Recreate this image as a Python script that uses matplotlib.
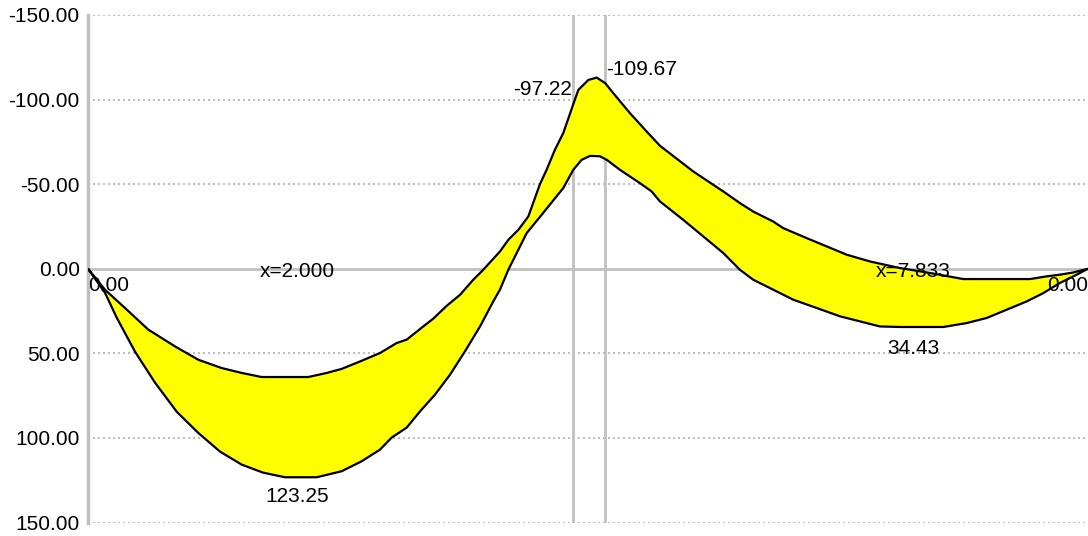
import numpy as np
import matplotlib.pyplot as plt

plt.rcParams['font.family'] = ['Liberation Sans', 'DejaVu Sans']

# Beam length and column faces (m)
beam_length = 9.3
column_faces = [4.513, 4.811]

# Envelope: max moment (sagging, drawn lower) along the beam
x_max = [0.0, 0.158, 0.267, 0.437, 0.623, 0.825, 1.023, 1.228, 1.430, 1.627,
         1.832, 2.127, 2.359, 2.545, 2.716, 2.824, 2.964, 3.088, 3.227, 3.367,
         3.506, 3.646, 3.769, 3.831, 3.909, 4.080, 4.219, 4.420, 4.513, 4.591,
         4.669, 4.761, 4.824, 4.947, 5.133, 5.242, 5.319, 5.536, 5.722, 5.908,
         6.063, 6.187, 6.373, 6.559, 6.777, 6.993, 7.179, 7.365, 7.552, 7.954,
         8.172, 8.358, 8.544, 8.730, 8.884, 9.039, 9.195, 9.3]
m_max = [0.0, 14.2, 28.9, 49.0, 67.3, 84.5, 96.9, 108.1, 115.8, 120.5,
         123.25, 123.25, 119.7, 113.8, 106.9, 99.8, 93.9, 84.3, 74.4, 62.6,
         48.8, 34.1, 19.3, 12.4, 0.6, -21.1, -31.9, -47.7, -58.5, -64.4,
         -66.7, -66.5, -64.4, -58.5, -50.6, -45.7, -39.8, -28.9, -19.1, -9.3,
         0.6, 6.5, 12.4, 18.3, 23.2, 28.1, 31.1, 34.1, 34.43, 34.43,
         32.1, 29.1, 24.2, 19.3, 14.4, 8.4, 3.5, 0.0]

# Envelope: min moment (hogging, drawn upper)
x_min = [0.0, 0.158, 0.344, 0.561, 0.809, 1.026, 1.243, 1.430, 1.615, 2.049,
         2.220, 2.359, 2.530, 2.716, 2.871, 2.964, 3.118, 3.211, 3.336, 3.460,
         3.583, 3.676, 3.831, 3.909, 4.002, 4.095, 4.203, 4.265, 4.342, 4.420,
         4.513, 4.560, 4.653, 4.731, 4.811, 4.885, 5.040, 5.196, 5.319, 5.629,
         5.908, 6.063, 6.187, 6.373, 6.466, 6.684, 6.870, 7.056, 7.273, 7.552,
         7.831, 8.140, 8.760, 8.916, 9.039, 9.163, 9.3]
m_min = [0.0, 12.4, 23.2, 36.0, 45.9, 53.8, 58.7, 61.6, 64.0, 64.0,
         61.6, 59.2, 54.8, 49.8, 43.9, 41.9, 34.1, 29.5, 21.9, 15.4,
         6.5, 0.6, -10.2, -17.1, -23.0, -30.9, -50.0, -58.5, -70.3, -80.2,
         -97.22, -105.7, -111.6, -113.0, -109.67, -103.8, -92.0, -81.1, -72.7, -57.5,
         -45.7, -38.8, -33.8, -27.9, -24.0, -18.1, -13.2, -8.3, -4.3, -0.4,
         2.5, 6.1, 6.1, 4.5, 3.5, 2.2, 0.0]

y_ticks = [-150, -100, -50, 0, 50, 100, 150]

# annotations: (x, y, text, ha, va)
labels = [
    (0.0, 4.0, "0.00", "left", "top"),
    (9.3, 4.0, "0.00", "right", "top"),
    (1.944, 1.5, "x=2.000", "center", "center"),
    (7.677, 1.5, "x=7.833", "center", "center"),
    (1.948, 129.0, "123.25", "center", "top"),
    (7.672, 41.5, "34.43", "center", "top"),
    (4.50, -105.7, "-97.22", "right", "center"),
    (4.82, -117.5, "-109.67", "left", "center"),
]

fig = plt.figure(figsize=(10.88, 5.36), dpi=100)
ax = fig.add_axes([88 / 1088, (536 - 522.5) / 536, 1 - 88 / 1088, 507.5 / 536])

grey = "#c0c0c0"

# polygon of the envelope
xs = list(x_min) + list(x_max[::-1])
ys = list(m_min) + list(m_max[::-1])
ax.fill(xs, ys, facecolor="#ffff00", edgecolor="black", linewidth=1.6, zorder=3)

for v in y_ticks:
    if v == 0:
        ax.axhline(v, color=grey, linewidth=2, zorder=1)
    else:
        ax.axhline(v, color="#b0b0b0", linewidth=1.2, linestyle=(0, (1.2, 1.8)), zorder=1)
for xc in column_faces:
    ax.axvline(xc, color=grey, linewidth=2, zorder=2)

for x, y, t, ha, va in labels:
    ax.text(x, y, t, ha=ha, va=va, fontsize=15, color="black", zorder=5)

ax.set_xlim(0, beam_length)
ax.set_ylim(150, -150)
ax.set_xticks([])
ax.set_yticks(y_ticks)
ax.set_yticklabels(["%.2f" % v for v in y_ticks], fontsize=15)
ax.tick_params(axis="y", length=0, pad=6)
for side in ["top", "right", "bottom"]:
    ax.spines[side].set_visible(False)
ax.spines["left"].set_color(grey)
ax.spines["left"].set_linewidth(2.5)
ax.patch.set_alpha(0)

fig.savefig("out.png", dpi=100)
